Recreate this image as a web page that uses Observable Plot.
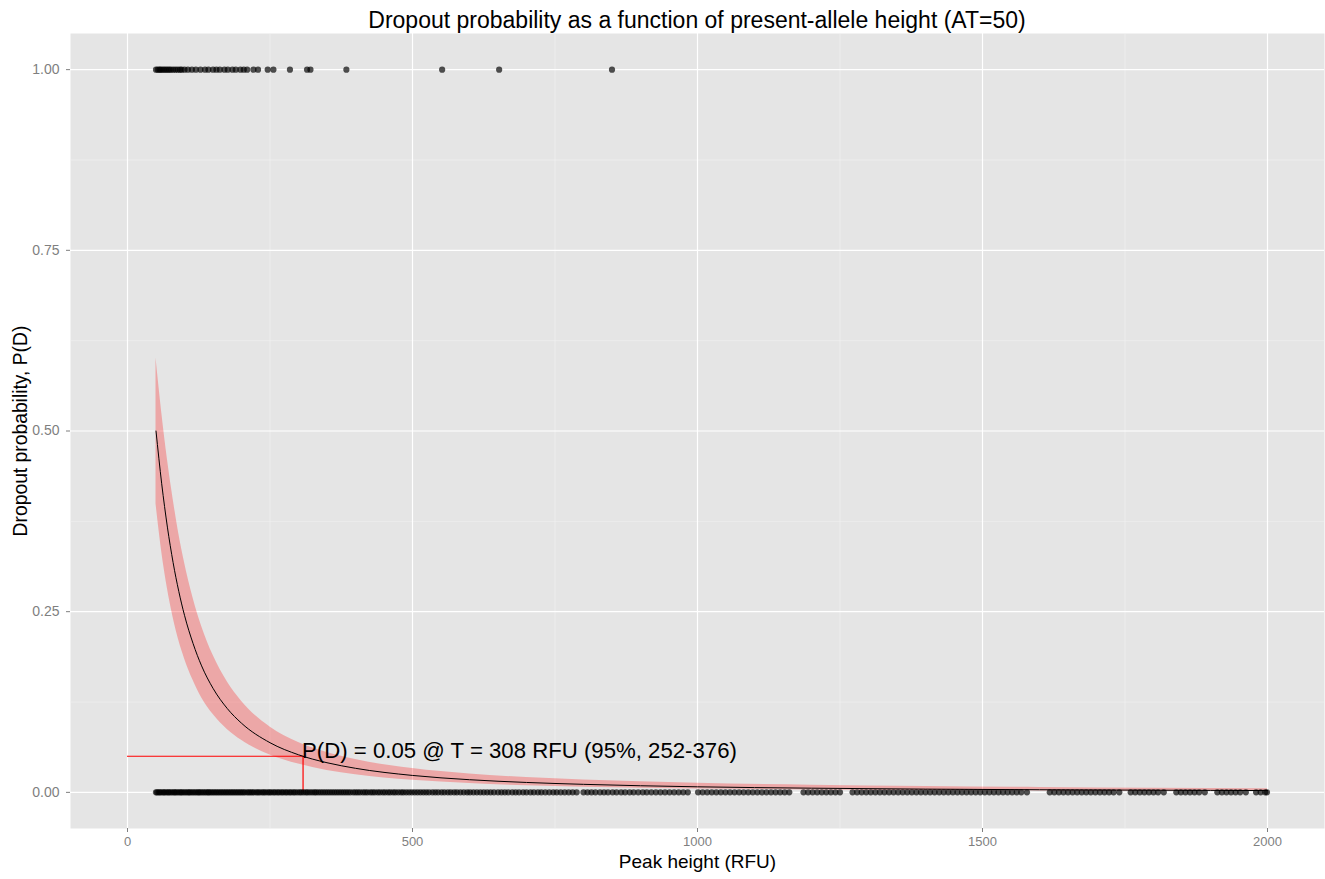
<!DOCTYPE html>
<html>
<head>
<meta charset="utf-8">
<script src="https://cdn.jsdelivr.net/npm/d3@7"></script>
<script src="https://cdn.jsdelivr.net/npm/@observablehq/plot@0.6"></script>
<style>
  html, body { margin: 0; padding: 0; background: #fff; }
  #title { height: 33px; width: 1254px; padding-left: 70px; text-align: center; white-space: nowrap;
           font-family: "Liberation Sans", Arial, sans-serif; font-size: 23px; line-height: 40px; color: #000; }
  #chart svg { display: block; }
</style>
</head>
<body>
<div id="title">Dropout probability as a function of present-allele height (AT=50)</div>
<div id="chart"></div>
<script>
// ---- data ----
const titleText = "Dropout probability as a function of present-allele height (AT=50)";
const xLabel = "Peak height (RFU)";
const yLabel = "Dropout probability, P(D)";
const xTicks = [0, 500, 1000, 1500, 2000];
const xMinor = [250, 750, 1250, 1750];
const yTicks = [0, 0.25, 0.5, 0.75, 1];
const yMinor = [0.125, 0.375, 0.625, 0.875];

// peak heights of alleles that dropped out (P(D)=1)
const droppedX = [50,53,56,58,61,64,67,70,73,76,80,84,88,92,95,100,106,113,120,128,136,142,150,156,162,170,176,184,190,198,204,210,221,229,246,256,285,315,321,384,552,652,850];
// peak heights of alleles that were present (P(D)=0)
const presentX = [50,52,55,57,60,63,65,68,71,73,76,79,82,84,87,90,93,95,98,101,104,107,109,112,115,118,121,124,126,129,132,135,138,141,143,146,149,152,155,158,161,164,167,170,173,176,179,182,185,188,191,194,197,200,203,206,210,213,216,219,222,226,229,232,236,239,242,246,249,252,256,259,263,266,270,273,277,280,284,287,291,294,298,302,305,309,313,316,320,324,328,331,335,339,343,347,351,355,359,363,367,371,375,379,383,387,391,396,400,404,408,413,417,421,426,430,434,439,443,448,452,457,461,466,470,475,480,484,489,494,499,
504,509,514,519,524,529,535,540,545,551,556,562,567,573,578,584,590,596,601,607,613,619,625,631,637,643,650,656,662,668,675,681,687,694,700,707,713,720,726,733,740,747,753,760,767,774,781,788,800,807,814,821,829,836,843,851,858,866,873,881,888,896,904,911,919,927,935,943,951,959,967,975,983,
1001,1009,1017,1025,1033,1041,1049,1057,1065,1073,1081,1089,1097,1105,1113,1121,1129,1137,1145,1153,1161,1186,1194,1202,1210,1218,1226,1234,1242,1250,1272,1280,1288,1296,1304,1312,1320,1328,1336,1344,1352,1360,1368,1376,1384,1392,1400,1408,1416,1424,1432,1440,1448,1456,1464,1472,1480,1488,1496,1504,1512,1520,1528,1536,1544,1552,1560,1568,1578,1618,1626,1634,1642,1650,1658,1666,1674,1682,1690,1698,1706,1714,1722,1730,1740,1760,1768,1776,1784,1792,1800,1808,1818,1840,1848,1856,1864,1872,1880,1890,1912,1920,1928,1936,1944,1952,1962,1980,1988,1996,1999];

// fitted curve and 95% band
const curveX = [50,60,70,80,90,100,115,130,150,175,200,250,300,350,400,500,600,700,800,1000,1200,1400,1600,1800,2000];
const curveP = [0.5,0.427,0.367,0.318,0.278,0.245,0.206,0.175,0.144,0.116,0.0957,0.0687,0.052,0.041,0.0333,0.0234,0.0175,0.0137,0.0111,0.0077,0.0058,0.0045,0.0036,0.003,0.0025];
const bandLow = [0.399,0.333,0.282,0.242,0.21,0.185,0.155,0.131,0.108,0.0871,0.072,0.0518,0.0391,0.0304,0.0244,0.0166,0.0121,0.0091,0.0072,0.0048,0.0034,0.0025,0.002,0.0016,0.0013];
const bandHigh = [0.601,0.526,0.461,0.406,0.358,0.318,0.269,0.23,0.19,0.153,0.126,0.0905,0.069,0.0551,0.0453,0.0329,0.0254,0.0205,0.0171,0.0126,0.0099,0.008,0.0067,0.0057,0.005];

const thresholdP = 0.05;
const thresholdT = 308;
const ciLow = 252, ciHigh = 376;
const annotation = `P(D) = ${thresholdP} @ T = ${thresholdT} RFU (95%, ${ciLow}-${ciHigh})`;

// ---- tables ----
const points = [
  ...droppedX.map(x => ({x, y: 1})),
  ...presentX.map(x => ({x, y: 0}))
];
const fit = curveX.map((x, i) => ({x, p: curveP[i], lo: bandLow[i], hi: bandHigh[i]}));

const grey = "#7F7F7F";
const chart = Plot.plot({
  width: 1325,
  height: 846,
  marginTop: 0,
  marginBottom: 51,
  marginLeft: 70,
  marginRight: 1,
  style: {fontFamily: "'Liberation Sans', Arial, sans-serif", background: "#fff"},
  x: {domain: [-100, 2100]},
  y: {domain: [-0.05, 1.05]},
  marks: [
    Plot.frame({fill: "#E5E5E5", stroke: null}),
    Plot.ruleX(xMinor, {stroke: "#F2F2F2", strokeWidth: 0.6}),
    Plot.ruleY(yMinor, {stroke: "#F2F2F2", strokeWidth: 0.6}),
    Plot.ruleX(xTicks, {stroke: "#fff", strokeWidth: 1.2}),
    Plot.ruleY(yTicks, {stroke: "#fff", strokeWidth: 1.2}),
    Plot.axisX({ticks: xTicks, tickSize: 4, tickPadding: 4, fontSize: 13, fill: grey, stroke: grey,
                tickFormat: d => String(d), label: null}),
    Plot.axisY({ticks: yTicks, tickSize: 4, tickPadding: 7, fontSize: 14, fill: grey, stroke: grey,
                tickFormat: d3.format(".2f"), label: null}),
    Plot.areaY(fit, {x: "x", y1: "lo", y2: "hi", fill: "red", fillOpacity: 0.27, curve: "monotone-x"}),
    Plot.ruleY([thresholdP], {x1: 0, x2: thresholdT, stroke: "red", strokeWidth: 1.2}),
    Plot.ruleX([thresholdT], {y1: 0, y2: thresholdP, stroke: "red", strokeWidth: 1.2}),
    Plot.dot(points, {x: "x", y: "y", r: 3.1, fill: "#000", fillOpacity: 0.68, stroke: null}),
    Plot.line(fit, {x: "x", y: "p", stroke: "#000", strokeWidth: 1, curve: "monotone-x"}),
    Plot.text([annotation], {x: thresholdT, y: thresholdP, text: d => d, textAnchor: "start", lineAnchor: "bottom",
                             fontSize: 22.2, fill: "#000", dx: -1, dy: 2}),
    Plot.text([xLabel], {frameAnchor: "bottom", lineAnchor: "middle", textAnchor: "middle", dy: 33, text: d => d, fontSize: 19, fill: "#000"}),
    Plot.text([yLabel], {frameAnchor: "left", lineAnchor: "middle", textAnchor: "middle", dx: -50, rotate: -90, text: d => d, fontSize: 19.3, fill: "#000"})
  ]
});
document.getElementById("title").textContent = titleText;
document.getElementById("chart").appendChild(chart);
</script>
</body>
</html>
